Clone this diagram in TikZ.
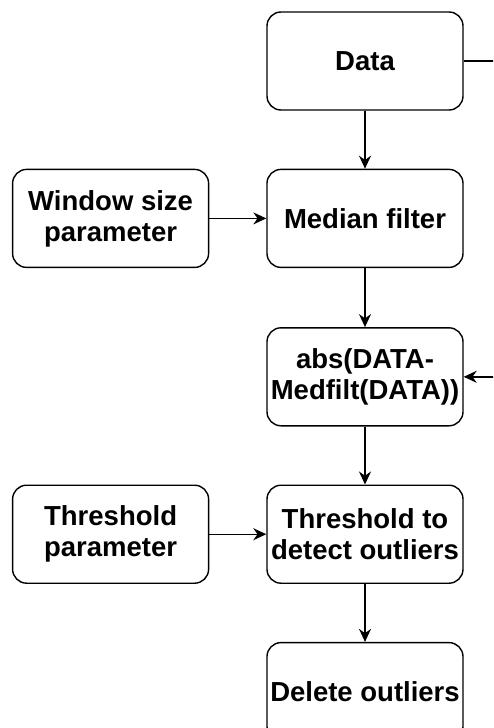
\documentclass[tikz,border=0pt]{standalone}
\usepackage{fontspec}
\setmainfont{Liberation Sans}
\usetikzlibrary{positioning,arrows.meta}

\begin{document}
\begin{tikzpicture}[x=1pt,y=1pt,
    box/.style={draw, line width=1.4pt, rounded corners=14pt,
        minimum width=196pt, minimum height=98pt, align=center,
        inner sep=0pt, font=\fontsize{27.5}{31}\selectfont\bfseries},
    flow/.style={-{Stealth[length=13pt,width=12pt]}, line width=1.4pt}]
    % fix the frame of the picture, the loop on the right is cut off
    \useasboundingbox (0,0) rectangle (493,-728);
    \clip (0,0) rectangle (493,-728);
    % main column
    \node[box] (data) at (365,-61) {Data};
    \node[box, below=58pt of data] (median) {Median filter};
    \node[box, below=59pt of median] (absdiff) {abs(DATA-\\Medfilt(DATA))};
    \node[box, below=58pt of absdiff] (thresh) {Threshold to\\detect outliers};
    \node[box, below=58pt of thresh] (delete) {Delete outliers};
    % parameters on the left
    \node[box, left=57pt of median] (window) {Window size\\parameter};
    \node[box, left=57pt of thresh] (threshpar) {Threshold\\parameter};
    \coordinate (loopR) at (530,-61);
    \draw[flow] (data) -- (median);
    \draw[flow] (median) -- (absdiff);
    \draw[flow] (absdiff) -- (thresh);
    \draw[flow] (thresh) -- (delete);
    \draw[flow] (window) -- (median);
    \draw[flow] (threshpar) -- (thresh);
    \draw[flow] (data.east) -- (loopR) |- (absdiff.east);
\end{tikzpicture}
\end{document}
